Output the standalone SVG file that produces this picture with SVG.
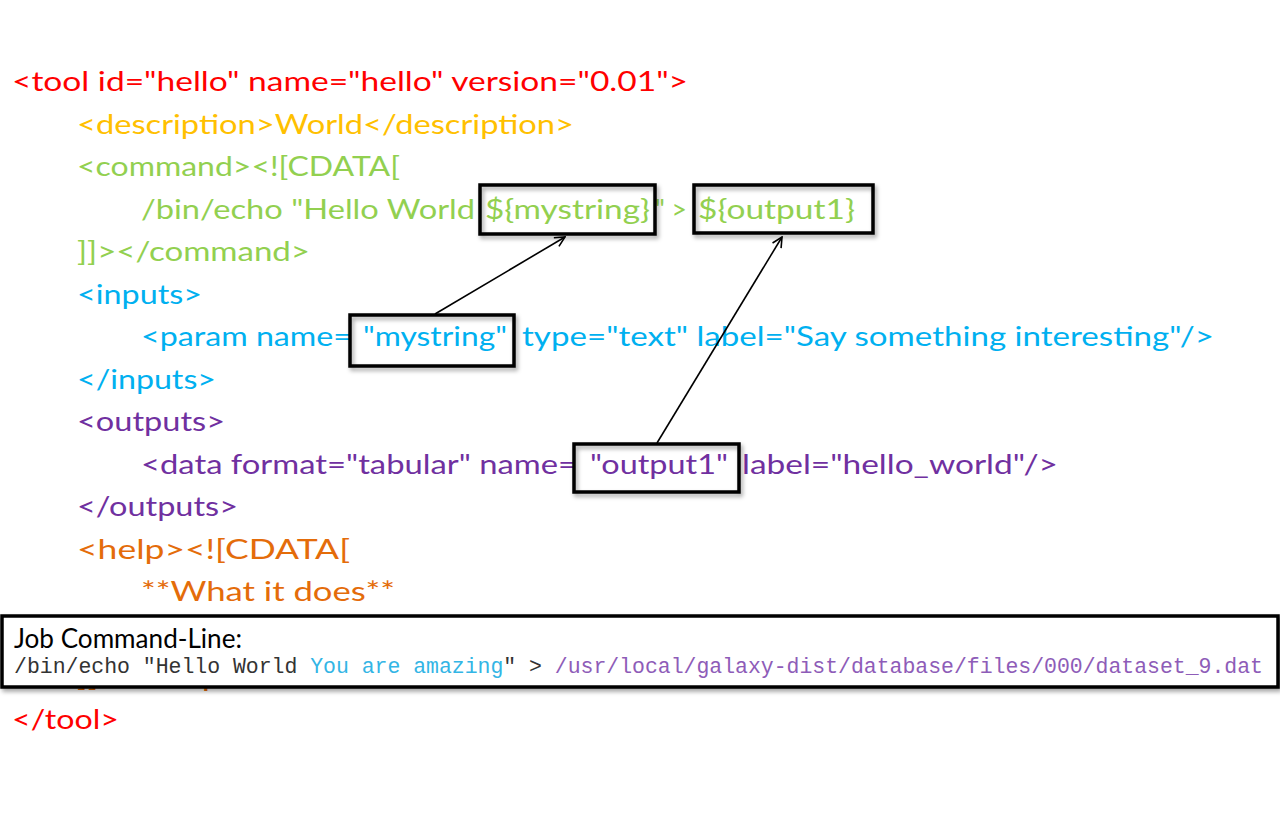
<svg xmlns="http://www.w3.org/2000/svg" width="1280" height="816" viewBox="0 0 1280 816">
<style>
  .c{font-family:Lato,"Liberation Sans",sans-serif;font-size:27px}
  .red{fill:#FF0000}.gold{fill:#FFC000}.green{fill:#92D050}.cyan{fill:#00B0F0}.purple{fill:#7030A0}.orange{fill:#E46C0A}
  .box{fill:none;stroke:#000;stroke-width:3.5}
  .jbox{fill:#fff;stroke:#000;stroke-width:3.5}
  .mono{font-family:"Liberation Mono","Courier New",monospace;font-size:21.5px;fill:#333}
  .conn{stroke:#000;stroke-width:1.6;fill:none}
</style>
<defs>
  <filter id="sh" x="-5%" y="-20%" width="110%" height="150%">
    <feDropShadow dx="2" dy="3" stdDeviation="2" flood-color="#000" flood-opacity="0.35"/>
  </filter>
  <marker id="ah" viewBox="0 0 12 12" refX="11" refY="6" markerWidth="12" markerHeight="12" markerUnits="userSpaceOnUse" orient="auto">
    <path d="M1,1 L11,6 L1,11" fill="none" stroke="#000" stroke-width="1.6"/>
  </marker>
</defs>
<rect width="1280" height="816" fill="#fff"/>

<g id="code">
  <text class="c red" x="12" y="91" textLength="676" lengthAdjust="spacingAndGlyphs">&lt;tool id="hello" name="hello" version="0.01"&gt;</text>
  <text class="c gold" x="77" y="134" textLength="497" lengthAdjust="spacingAndGlyphs">&lt;description&gt;World&lt;/description&gt;</text>
  <text class="c green" x="77" y="176" textLength="323" lengthAdjust="spacingAndGlyphs">&lt;command&gt;&lt;![CDATA[</text>
  <text class="c green" x="141" y="219" textLength="334" lengthAdjust="spacingAndGlyphs">/bin/echo "Hello World</text>
  <text class="c green" x="485" y="219" textLength="165" lengthAdjust="spacingAndGlyphs">${mystring}</text>
  <text class="c green" x="655" y="219" textLength="32" lengthAdjust="spacingAndGlyphs">" &gt;</text>
  <text class="c green" x="698" y="219" textLength="157" lengthAdjust="spacingAndGlyphs">${output1}</text>
  <text class="c green" x="77" y="261" textLength="233" lengthAdjust="spacingAndGlyphs">]]&gt;&lt;/command&gt;</text>
  <text class="c cyan" x="77" y="304" textLength="125" lengthAdjust="spacingAndGlyphs">&lt;inputs&gt;</text>
  <text class="c cyan" x="141" y="346" textLength="211" lengthAdjust="spacingAndGlyphs">&lt;param name=</text>
  <text class="c cyan" x="363" y="346" textLength="144" lengthAdjust="spacingAndGlyphs">"mystring"</text>
  <text class="c cyan" x="522" y="346" textLength="692" lengthAdjust="spacingAndGlyphs">type="text" label="Say something interesting"/&gt;</text>
  <text class="c cyan" x="77" y="389" textLength="139" lengthAdjust="spacingAndGlyphs">&lt;/inputs&gt;</text>
  <text class="c purple" x="77" y="431" textLength="148" lengthAdjust="spacingAndGlyphs">&lt;outputs&gt;</text>
  <text class="c purple" x="141" y="474" textLength="436" lengthAdjust="spacingAndGlyphs">&lt;data format="tabular" name=</text>
  <text class="c purple" x="590" y="474" textLength="138" lengthAdjust="spacingAndGlyphs">"output1"</text>
  <text class="c purple" x="742" y="474" textLength="316" lengthAdjust="spacingAndGlyphs">label="hello_world"/&gt;</text>
  <text class="c purple" x="77" y="516" textLength="161" lengthAdjust="spacingAndGlyphs">&lt;/outputs&gt;</text>
  <text class="c orange" x="77" y="559" textLength="273" lengthAdjust="spacingAndGlyphs">&lt;help&gt;&lt;![CDATA[</text>
  <text class="c orange" x="141" y="601" textLength="254" lengthAdjust="spacingAndGlyphs">**What it does**</text>
  <text class="c orange" x="77" y="686" textLength="165" lengthAdjust="spacingAndGlyphs">]]&gt;&lt;/help&gt;</text>
  <text class="c red" x="12" y="729" textLength="107" lengthAdjust="spacingAndGlyphs">&lt;/tool&gt;</text>
</g>

<g id="box-cmd-mystring"><rect class="box" filter="url(#sh)" x="480" y="185" width="175" height="49"/></g>
<g id="box-cmd-output1"><rect class="box" filter="url(#sh)" x="694" y="185" width="179" height="48"/></g>
<g id="box-param-mystring"><rect class="box" filter="url(#sh)" x="350" y="315" width="164" height="51"/></g>
<g id="box-data-output1"><rect class="box" filter="url(#sh)" x="574" y="444" width="165" height="48"/></g>

<g id="connectors">
  <line class="conn" x1="435" y1="314" x2="565" y2="237" marker-end="url(#ah)"/>
  <line class="conn" x1="657" y1="443" x2="782" y2="237" marker-end="url(#ah)"/>
</g>

<g id="job-box">
  <rect class="jbox" filter="url(#sh)" x="2" y="616" width="1276" height="71"/>
  <text class="c" x="14" y="648" fill="#000" font-size="25" textLength="228" lengthAdjust="spacingAndGlyphs">Job Command-Line:</text>
  <text class="mono" x="14" y="673" textLength="1249" lengthAdjust="spacing">/bin/echo "Hello World <tspan fill="#33B5E5">You are amazing</tspan>" &gt; <tspan fill="#8E5CB8">/usr/local/galaxy-dist/database/files/000/dataset_9.dat</tspan></text>
</g>
</svg>
